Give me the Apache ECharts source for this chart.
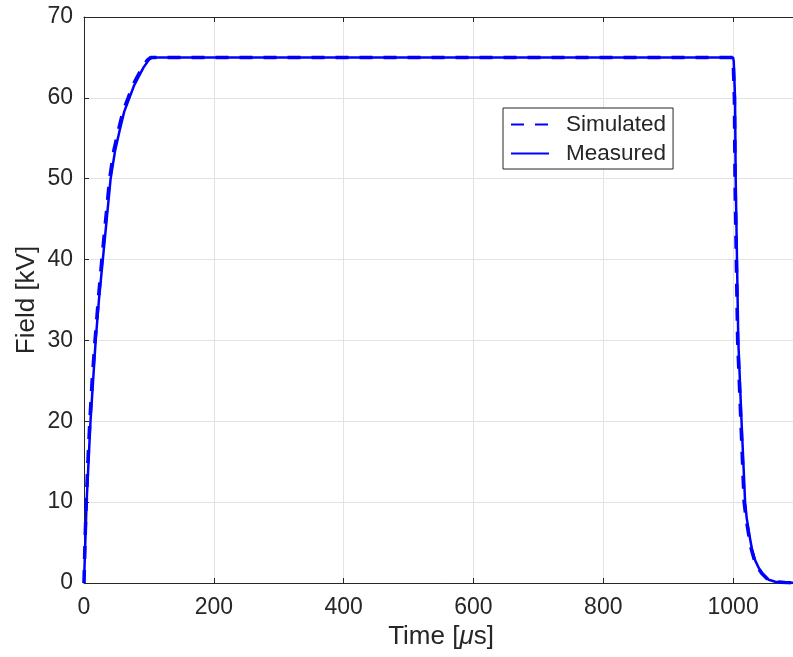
<!DOCTYPE html>
<html>
<head>
<meta charset="utf-8">
<script src="https://cdn.jsdelivr.net/npm/echarts@6/dist/echarts.min.js"></script>
<style>
  html, body { margin: 0; padding: 0; background: #fff; overflow: hidden; }
  #chart { width: 800px; height: 657px; }
</style>
</head>
<body>
<div id="chart"></div>
<script>
// Pulse field: simulated vs measured (time in microseconds, field in kV)
const simTime = [0, 1.5, 3.5, 6, 9, 12.5, 17, 22, 27.5, 33.5, 39.5, 46, 53, 60, 68, 75, 82, 90, 98, 103,
  1000, 1002, 1003, 1005, 1007, 1012, 1017, 1020, 1024, 1028, 1033, 1039, 1044, 1054, 1064, 1080, 1100];
const simField = [0, 5, 10, 15, 20, 25, 30, 35, 40, 45, 50, 53.5, 56, 58.3, 60, 61.5, 62.6, 63.8, 64.7, 65,
  65, 60, 50, 40, 30, 20, 10, 8, 6, 4.2, 2.8, 1.8, 1.2, 0.4, 0.15, 0.05, 0];

const measTime = [0, 2, 4, 7, 10, 14, 18, 23, 29, 35, 41, 48, 55, 62, 70, 77, 84, 92, 100, 105,
  1000, 1001, 1003, 1004, 1006, 1008, 1013, 1018.5, 1021, 1025, 1029, 1034, 1040, 1045, 1055, 1065, 1080, 1100];
const measField = [0, 5, 10, 15, 20, 25, 30, 35, 40, 45, 50, 53.5, 56, 58.3, 60, 61.5, 62.6, 63.8, 64.7, 65,
  65, 64.5, 60, 50, 40, 30, 20, 10, 8, 6, 4.2, 2.8, 1.8, 1.2, 0.4, 0.15, 0.05, 0];

const seriesNames = ['Simulated', 'Measured'];
const xTitle = 'Time [{mu|μ}s]';
const yTitle = 'Field [kV]';

const axisColor = '#262626';
const gridColor = '#e3e3e3';
const lineBlue = '#0000ff';
const fontFamily = 'Liberation Sans, Arial, Helvetica, sans-serif';

const pairs = (xs, ys) => xs.map((x, i) => [x, ys[i]]);

const chart = echarts.init(document.getElementById('chart'), null, { renderer: 'canvas' });

const xBase = {
  type: 'value', min: 0, max: 1100, interval: 200,
  axisLine: { show: true, onZero: false, lineStyle: { color: axisColor, width: 1 } },
  axisTick: { show: true, inside: true, length: 5, lineStyle: { color: axisColor } },
};
const yBase = {
  type: 'value', min: 0, max: 70, interval: 10,
  axisLine: { show: true, onZero: false, lineStyle: { color: axisColor, width: 1 } },
  axisTick: { show: true, inside: true, length: 5, lineStyle: { color: axisColor } },
};

chart.setOption({
  animation: false,
  backgroundColor: '#fff',
  textStyle: { fontFamily: fontFamily },
  grid: { left: 84, top: 17, right: 2, bottom: 74, containLabel: false },
  legend: {
    orient: 'vertical',
    left: 503, top: 108,
    data: seriesNames,
    itemWidth: 38, itemHeight: 14, itemGap: 6,
    padding: [5, 7, 4, 7],
    borderColor: axisColor, borderWidth: 1, backgroundColor: '#fff',
    textStyle: { fontSize: 22.5, color: axisColor, fontFamily: fontFamily, padding: [0, 0, 0, 12] },
    itemStyle: { opacity: 0 },
    selectedMode: false
  },
  xAxis: [
    Object.assign({}, xBase, {
      position: 'bottom',
      name: xTitle, nameLocation: 'middle', nameGap: 41, nameMoveOverlap: false,
      nameTextStyle: { fontSize: 26, color: axisColor, fontFamily: fontFamily,
        rich: { mu: { fontStyle: 'italic', fontSize: 26, color: axisColor, fontFamily: fontFamily } } },
      axisLabel: { fontSize: 23, color: axisColor, margin: 13, showMaxLabel: false,
        formatter: v => (v > 1000 ? '' : String(v)) },
      splitLine: { show: true, lineStyle: { color: gridColor, width: 1 } }
    }),
    Object.assign({}, xBase, {
      position: 'top', axisLabel: { show: false }, splitLine: { show: false }
    })
  ],
  yAxis: [
    Object.assign({}, yBase, {
      position: 'left',
      name: yTitle, nameLocation: 'middle', nameGap: 44, nameRotate: 90, nameMoveOverlap: false,
      nameTextStyle: { fontSize: 26, color: axisColor, fontFamily: fontFamily },
      axisLabel: { fontSize: 23, color: axisColor, margin: 11 },
      splitLine: { show: true, lineStyle: { color: gridColor, width: 1 } }
    }),
    Object.assign({}, yBase, {
      position: 'right', axisLabel: { show: false }, splitLine: { show: false }
    })
  ],
  series: [
    {
      name: seriesNames[0], type: 'line', xAxisIndex: 0, yAxisIndex: 0,
      data: pairs(simTime, simField),
      showSymbol: false, symbol: 'none', z: 3,
      lineStyle: { color: lineBlue, width: 3.5, type: [13, 11] },
      itemStyle: { color: lineBlue }
    },
    {
      name: seriesNames[1], type: 'line', xAxisIndex: 0, yAxisIndex: 0,
      data: pairs(measTime, measField),
      showSymbol: false, symbol: 'none', z: 2,
      lineStyle: { color: lineBlue, width: 2.5, type: 'solid' },
      itemStyle: { color: lineBlue }
    }
  ]
});
</script>
</body>
</html>
